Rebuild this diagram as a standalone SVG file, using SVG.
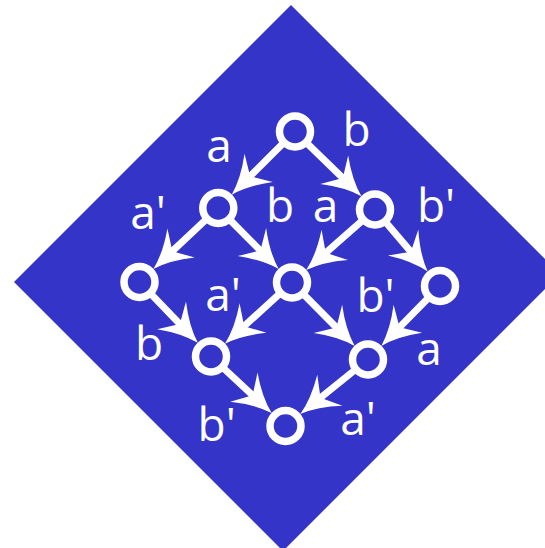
<svg xmlns="http://www.w3.org/2000/svg" width="545" height="548" viewBox="0 0 545 548">
<style>
.node{fill:none;stroke:#fff;stroke-width:7.5}
.edge{stroke:#fff;stroke-width:7;fill:none}
.lbl{font-family:"Open Sans","DejaVu Sans",sans-serif;font-size:46px;fill:#fff;text-anchor:middle}
</style>
<defs>
<marker id="arr" markerUnits="userSpaceOnUse" viewBox="-1 -21 40 42" markerWidth="40" markerHeight="42" refX="17" refY="0" orient="auto" overflow="visible">
<path d="M38,0 Q20,-5 0,-20 L12,0 L0,20 Q20,5 38,0 Z" fill="#fff"/>
</marker>
</defs>
<rect width="545" height="548" fill="#fff"/>
<polygon id="bg" points="291,5 560,274 283,551 14,282" fill="#3434c8"/>
<g id="connectors">
<line class="edge" x1="284.4" y1="142.1" x2="246.6" y2="179.8" marker-end="url(#arr)"/>
<line class="edge" x1="305.7" y1="142.0" x2="346.4" y2="181.6" marker-end="url(#arr)"/>
<line class="edge" x1="207.4" y1="218.3" x2="168.7" y2="254.6" marker-end="url(#arr)"/>
<line class="edge" x1="228.8" y1="218.7" x2="263.9" y2="254.1" marker-end="url(#arr)"/>
<line class="edge" x1="363.7" y1="219.4" x2="322.0" y2="256.1" marker-end="url(#arr)"/>
<line class="edge" x1="384.7" y1="220.9" x2="414.1" y2="255.5" marker-end="url(#arr)"/>
<line class="edge" x1="149.9" y1="292.8" x2="183.3" y2="327.7" marker-end="url(#arr)"/>
<line class="edge" x1="280.9" y1="292.6" x2="240.5" y2="329.5" marker-end="url(#arr)"/>
<line class="edge" x1="302.5" y1="293.2" x2="339.9" y2="331.0" marker-end="url(#arr)"/>
<line class="edge" x1="429.5" y1="296.7" x2="396.0" y2="330.9" marker-end="url(#arr)"/>
<line class="edge" x1="222.0" y1="366.7" x2="256.3" y2="398.7" marker-end="url(#arr)"/>
<line class="edge" x1="356.3" y1="368.9" x2="316.6" y2="400.9" marker-end="url(#arr)"/>
</g>
<g id="n-top"><circle class="node" cx="295" cy="131.5" r="15.5"/></g>
<g id="n-l1"><circle class="node" cx="218.3" cy="208" r="15.5"/></g>
<g id="n-r1"><circle class="node" cx="375" cy="209.5" r="15.5"/></g>
<g id="n-l2"><circle class="node" cx="139.5" cy="282" r="15.5"/></g>
<g id="n-m2"><circle class="node" cx="292" cy="282.5" r="15.5"/></g>
<g id="n-r2"><circle class="node" cx="440" cy="286" r="15.5"/></g>
<g id="n-l3"><circle class="node" cx="211" cy="356.5" r="15.5"/></g>
<g id="n-r3"><circle class="node" cx="368" cy="359.5" r="15.5"/></g>
<g id="n-b"><circle class="node" cx="285.5" cy="426" r="15.5"/></g>
<g id="labels">
<text class="lbl" x="219" y="162">a</text>
<text class="lbl" x="356.5" y="146">b</text>
<text class="lbl" x="148" y="229">a'</text>
<text class="lbl" x="280" y="222">b</text>
<text class="lbl" x="325.5" y="222">a</text>
<text class="lbl" x="436" y="222">b'</text>
<text class="lbl" x="223" y="311">a'</text>
<text class="lbl" x="375.5" y="312">b'</text>
<text class="lbl" x="149" y="360">b</text>
<text class="lbl" x="429" y="365">a</text>
<text class="lbl" x="216.7" y="441">b'</text>
<text class="lbl" x="358" y="435">a'</text>
</g>
</svg>
